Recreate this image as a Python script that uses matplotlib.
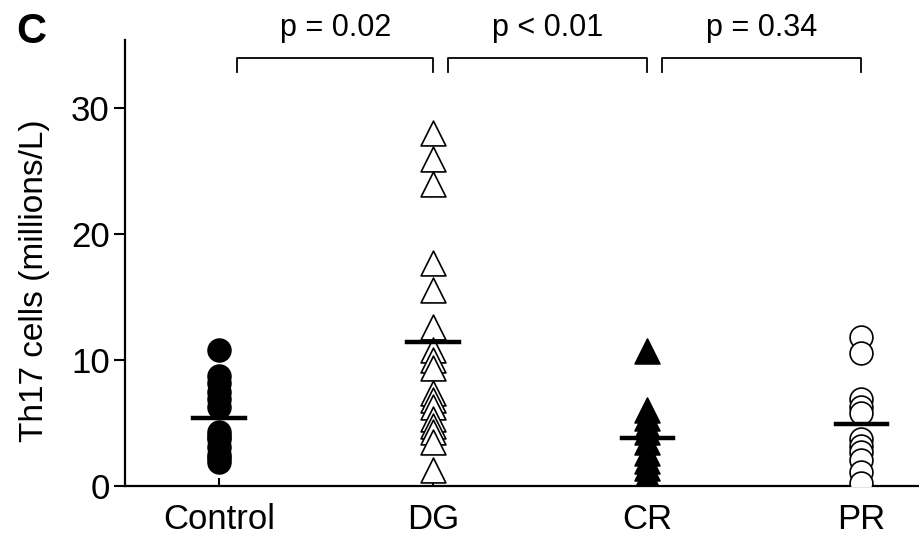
import numpy as np
import matplotlib.pyplot as plt

plt.rcParams['font.family'] = ['Liberation Sans', 'DejaVu Sans']

groups = ['Control', 'DG', 'CR', 'PR']
control = [10.8, 8.7, 8.2, 7.5, 6.9, 6.3, 4.3, 4.0, 3.7, 3.1, 2.5, 2.2, 1.9]
dg = [28.0, 26.0, 24.0, 17.7, 15.6, 12.6, 10.8, 10.0, 9.4, 7.4, 6.8, 6.3,
      5.3, 4.8, 4.3, 3.5, 1.3]
cr = [10.7, 6.0, 5.4, 4.8, 4.3, 3.5, 2.6, 2.0, 1.4, 0.8, 0.4]
pr = [11.8, 10.6, 6.9, 6.3, 5.8, 3.7, 3.2, 2.7, 2.1, 1.1, 0.2]
p_labels = ['p = 0.02', 'p < 0.01', 'p = 0.34']
yticks = [0, 10, 20, 30]

data = [control, dg, cr, pr]
markers = ['o', '^', '^', 'o']
faces = ['black', 'white', 'black', 'white']

fig = plt.figure(figsize=(9.19, 5.37), dpi=100)
ax = fig.add_axes([0.136, 0.095, 0.864, 0.83])

for i, vals in enumerate(data):
    x = np.full(len(vals), i)
    ax.scatter(x, vals, s=270 if markers[i] == 'o' else 320, marker=markers[i],
               facecolors=faces[i], edgecolors='black', linewidths=1.2,
               zorder=3)
    m = np.mean(vals)
    ax.plot([i - 0.12, i + 0.12], [m, m], color='black', lw=3.2, zorder=4)

# significance brackets
pairs = [(0, 1), (1, 2), (2, 3)]
for (a, b), lab in zip(pairs, p_labels):
    x0 = a + 0.085 if a == 0 else a + 0.07
    x1 = b
    ax.plot([x0, x0, x1, x1], [32.9, 34.0, 34.0, 32.9], color='black',
            lw=1.3, clip_on=False)
    ax.text((x0 + x1) / 2, 35.7, lab, ha='center', va='baseline', fontsize=22,
            clip_on=False)

ax.set_xlim(-0.44, 3.27)
ax.set_ylim(0, 35.4)
ax.set_xticks(range(4))
ax.set_xticklabels(groups, fontsize=25)
ax.set_yticks(yticks)
ax.set_yticklabels([str(t) for t in yticks], fontsize=25)
ax.set_ylabel('Th17 cells (millions/L)', fontsize=24)
ax.yaxis.set_label_coords(-0.094, 0.46)
ax.tick_params(axis='y', direction='out', length=8, width=1.5, pad=3)
ax.tick_params(axis='x', direction='in', length=6, width=1.5, pad=12)
for s in ['top', 'right']:
    ax.spines[s].set_visible(False)
for s in ['left', 'bottom']:
    ax.spines[s].set_linewidth(1.6)

fig.text(0.018, 0.92, 'C', fontsize=30, fontweight='bold')

fig.savefig('out.png', dpi=100)
